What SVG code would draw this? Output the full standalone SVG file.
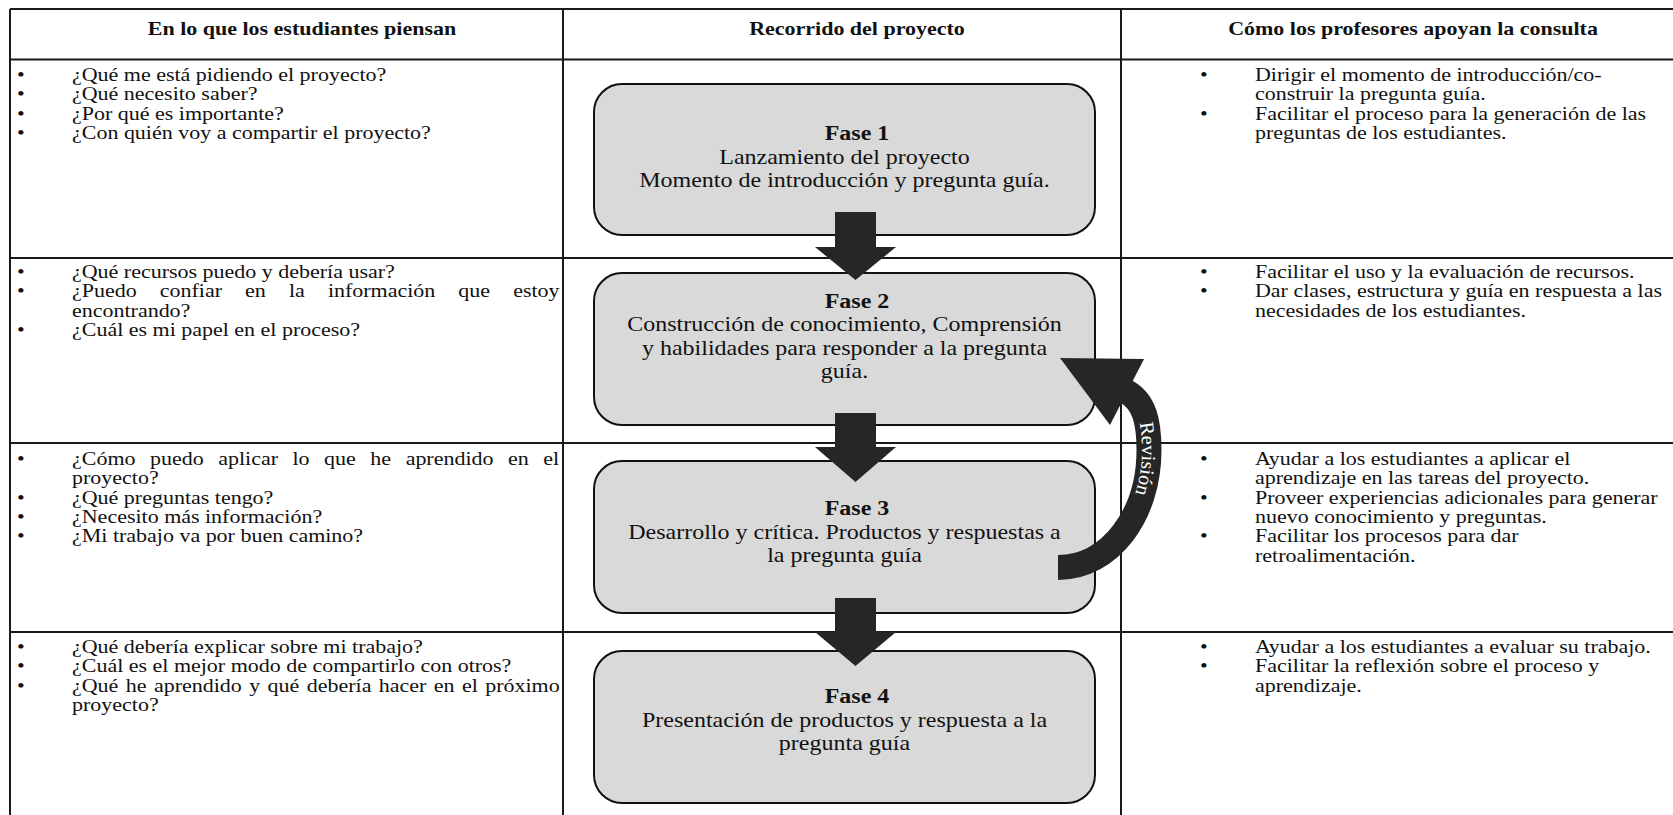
<svg xmlns="http://www.w3.org/2000/svg" width="1673" height="815" viewBox="0 0 1673 815">
<style>
.grid{stroke:#1a1a1a;stroke-width:2;fill:none}
.t{font-family:"Liberation Serif","Times New Roman",serif;font-size:19.5px;fill:#111}
.h{font-family:"Liberation Serif","Times New Roman",serif;font-size:19.5px;font-weight:bold;fill:#111;text-anchor:middle}
.bx{fill:#d9d9d9;stroke:#111;stroke-width:2}
.bt{font-family:"Liberation Serif","Times New Roman",serif;font-size:21.3px;fill:#111;text-anchor:middle}
.bf{font-weight:bold}
.ar{fill:#262626}
.rv{font-family:"Liberation Serif","Times New Roman",serif;font-size:20px;fill:#fff;text-anchor:middle}
</style>
<defs>
<path id="revpath" d="M1121,398 C1138,406 1142,425 1142,450 C1142,510 1106,560.5 1058,560.5"/>
</defs>
<rect width="1673" height="815" fill="#fff"/>
<g id="table">
<line class="grid" x1="10" y1="9" x2="1673" y2="9"/>
<line class="grid" x1="10" y1="59.5" x2="1673" y2="59.5"/>
<line class="grid" x1="10" y1="258" x2="1673" y2="258"/>
<line class="grid" x1="10" y1="443" x2="1673" y2="443"/>
<line class="grid" x1="10" y1="632" x2="1673" y2="632"/>
<line class="grid" x1="10" y1="9" x2="10" y2="815"/>
<line class="grid" x1="563" y1="9" x2="563" y2="815"/>
<line class="grid" x1="1121" y1="9" x2="1121" y2="815"/>
</g>
<g id="headers">
<text class="h" transform="matrix(1.128 0 0 1 302 34.5)">En lo que los estudiantes piensan</text>
<text class="h" transform="matrix(1.128 0 0 1 857 34.5)">Recorrido del proyecto</text>
<text class="h" transform="matrix(1.128 0 0 1 1413 34.5)">Cómo los profesores apoyan la consulta</text>
</g>
<g id="students-row1">
<text class="t" transform="matrix(1.128 0 0 1 17 81)">•</text><text class="t" transform="matrix(1.128 0 0 1 72 81)">¿Qué me está pidiendo el proyecto?</text>
<text class="t" transform="matrix(1.128 0 0 1 17 100.3)">•</text><text class="t" transform="matrix(1.128 0 0 1 72 100.3)">¿Qué necesito saber?</text>
<text class="t" transform="matrix(1.128 0 0 1 17 119.6)">•</text><text class="t" transform="matrix(1.128 0 0 1 72 119.6)">¿Por qué es importante?</text>
<text class="t" transform="matrix(1.128 0 0 1 17 138.9)">•</text><text class="t" transform="matrix(1.128 0 0 1 72 138.9)">¿Con quién voy a compartir el proyecto?</text>
</g>
<g id="students-row2">
<text class="t" transform="matrix(1.128 0 0 1 17 278)">•</text><text class="t" transform="matrix(1.128 0 0 1 72 278)">¿Qué recursos puedo y debería usar?</text>
<text class="t" transform="matrix(1.128 0 0 1 17 297.3)">•</text><text class="t" transform="matrix(1.128 0 0 1 72 297.3)" word-spacing="15.6">¿Puedo confiar en la información que estoy</text>
<text class="t" transform="matrix(1.128 0 0 1 72 316.6)">encontrando?</text>
<text class="t" transform="matrix(1.128 0 0 1 17 335.9)">•</text><text class="t" transform="matrix(1.128 0 0 1 72 335.9)">¿Cuál es mi papel en el proceso?</text>
</g>
<g id="students-row3">
<text class="t" transform="matrix(1.128 0 0 1 17 465)">•</text><text class="t" transform="matrix(1.128 0 0 1 72 465)" word-spacing="8">¿Cómo puedo aplicar lo que he aprendido en el</text>
<text class="t" transform="matrix(1.128 0 0 1 72 484.3)">proyecto?</text>
<text class="t" transform="matrix(1.128 0 0 1 17 503.6)">•</text><text class="t" transform="matrix(1.128 0 0 1 72 503.6)">¿Qué preguntas tengo?</text>
<text class="t" transform="matrix(1.128 0 0 1 17 522.9)">•</text><text class="t" transform="matrix(1.128 0 0 1 72 522.9)">¿Necesito más información?</text>
<text class="t" transform="matrix(1.128 0 0 1 17 542.2)">•</text><text class="t" transform="matrix(1.128 0 0 1 72 542.2)">¿Mi trabajo va por buen camino?</text>
</g>
<g id="students-row4">
<text class="t" transform="matrix(1.128 0 0 1 17 653)">•</text><text class="t" transform="matrix(1.128 0 0 1 72 653)">¿Qué debería explicar sobre mi trabajo?</text>
<text class="t" transform="matrix(1.128 0 0 1 17 672.3)">•</text><text class="t" transform="matrix(1.128 0 0 1 72 672.3)">¿Cuál es el mejor modo de compartirlo con otros?</text>
<text class="t" transform="matrix(1.128 0 0 1 17 691.6)">•</text><text class="t" transform="matrix(1.128 0 0 1 72 691.6)" word-spacing="1.7">¿Qué he aprendido y qué debería hacer en el próximo</text>
<text class="t" transform="matrix(1.128 0 0 1 72 710.9)">proyecto?</text>
</g>
<g id="teachers-row1">
<text class="t" transform="matrix(1.128 0 0 1 1200 81)">•</text><text class="t" transform="matrix(1.128 0 0 1 1255 81)">Dirigir el momento de introducción/co-</text>
<text class="t" transform="matrix(1.128 0 0 1 1255 100.3)">construir la pregunta guía.</text>
<text class="t" transform="matrix(1.128 0 0 1 1200 119.6)">•</text><text class="t" transform="matrix(1.128 0 0 1 1255 119.6)">Facilitar el proceso para la generación de las</text>
<text class="t" transform="matrix(1.128 0 0 1 1255 138.9)">preguntas de los estudiantes.</text>
</g>
<g id="teachers-row2">
<text class="t" transform="matrix(1.128 0 0 1 1200 278)">•</text><text class="t" transform="matrix(1.128 0 0 1 1255 278)">Facilitar el uso y la evaluación de recursos.</text>
<text class="t" transform="matrix(1.128 0 0 1 1200 297.3)">•</text><text class="t" transform="matrix(1.128 0 0 1 1255 297.3)">Dar clases, estructura y guía en respuesta a las</text>
<text class="t" transform="matrix(1.128 0 0 1 1255 316.6)">necesidades de los estudiantes.</text>
</g>
<g id="teachers-row3">
<text class="t" transform="matrix(1.128 0 0 1 1200 465)">•</text><text class="t" transform="matrix(1.128 0 0 1 1255 465)">Ayudar a los estudiantes a aplicar el</text>
<text class="t" transform="matrix(1.128 0 0 1 1255 484.3)">aprendizaje en las tareas del proyecto.</text>
<text class="t" transform="matrix(1.128 0 0 1 1200 503.6)">•</text><text class="t" transform="matrix(1.128 0 0 1 1255 503.6)">Proveer experiencias adicionales para generar</text>
<text class="t" transform="matrix(1.128 0 0 1 1255 522.9)">nuevo conocimiento y preguntas.</text>
<text class="t" transform="matrix(1.128 0 0 1 1200 542.2)">•</text><text class="t" transform="matrix(1.128 0 0 1 1255 542.2)">Facilitar los procesos para dar</text>
<text class="t" transform="matrix(1.128 0 0 1 1255 561.5)">retroalimentación.</text>
</g>
<g id="teachers-row4">
<text class="t" transform="matrix(1.128 0 0 1 1200 653)">•</text><text class="t" transform="matrix(1.128 0 0 1 1255 653)">Ayudar a los estudiantes a evaluar su trabajo.</text>
<text class="t" transform="matrix(1.128 0 0 1 1200 672.3)">•</text><text class="t" transform="matrix(1.128 0 0 1 1255 672.3)">Facilitar la reflexión sobre el proceso y</text>
<text class="t" transform="matrix(1.128 0 0 1 1255 691.6)">aprendizaje.</text>
</g>
<g id="fase1">
<rect class="bx" x="594" y="84" width="501" height="151" rx="28"/>
<text class="bt bf" transform="matrix(1.127 0 0 1 857 140)">Fase 1</text>
<text class="bt" transform="matrix(1.127 0 0 1 844.5 163.5)">Lanzamiento del proyecto</text>
<text class="bt" transform="matrix(1.127 0 0 1 844.5 187)">Momento de introducción y pregunta guía.</text>
</g>
<g id="fase2">
<rect class="bx" x="594" y="273" width="501" height="152" rx="28"/>
<text class="bt bf" transform="matrix(1.127 0 0 1 857 307.5)">Fase 2</text>
<text class="bt" transform="matrix(1.127 0 0 1 844.5 331)">Construcción de conocimiento, Comprensión</text>
<text class="bt" transform="matrix(1.127 0 0 1 844.5 354.5)">y habilidades para responder a la pregunta</text>
<text class="bt" transform="matrix(1.127 0 0 1 844.5 378)">guía.</text>
</g>
<g id="fase3">
<rect class="bx" x="594" y="461" width="501" height="152" rx="28"/>
<text class="bt bf" transform="matrix(1.127 0 0 1 857 515)">Fase 3</text>
<text class="bt" transform="matrix(1.127 0 0 1 844.5 538.5)">Desarrollo y crítica. Productos y respuestas a</text>
<text class="bt" transform="matrix(1.127 0 0 1 844.5 562)">la pregunta guía</text>
</g>
<g id="fase4">
<rect class="bx" x="594" y="651" width="501" height="152" rx="28"/>
<text class="bt bf" transform="matrix(1.127 0 0 1 857 703)">Fase 4</text>
<text class="bt" transform="matrix(1.127 0 0 1 844.5 726.5)">Presentación de productos y respuesta a la</text>
<text class="bt" transform="matrix(1.127 0 0 1 844.5 750)">pregunta guía</text>
</g>
<g id="connectors">
<polygon class="ar" points="835,212 876,212 876,247 896,247 855.5,280 815,247 835,247"/>
<polygon class="ar" points="835,413 876,413 876,447 896,447 855.5,482 815,447 835,447"/>
<polygon class="ar" points="835,598 876,598 876,632 896,632 855.5,666 815,632 835,632"/>
<path d="M1058,567.5 C1110,567.5 1149,515 1149,450 C1149,423 1145,401 1125,391" fill="none" stroke="#262626" stroke-width="25"/>
<polygon class="ar" points="1060,358 1144,359 1110,425"/>
<text class="rv"><textPath href="#revpath" startOffset="68">Revisión</textPath></text>
</g>
</svg>
